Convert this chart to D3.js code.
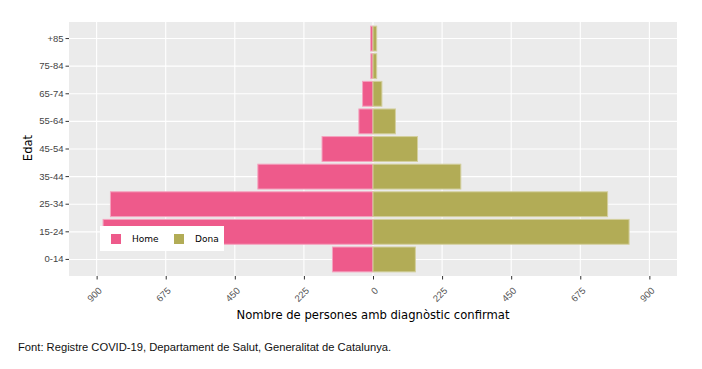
<!DOCTYPE html>
<html>
<head>
<meta charset="utf-8">
<script src="https://cdn.jsdelivr.net/npm/d3@7"></script>
<style>
body { margin: 0; background: #fff; }
</style>
</head>
<body>
<script>

let width = 702;
let height = 369;

let margins = {
	top: 22,
	right: 25,
	bottom: 93,
	left: 69
};

// age groups, bottom to top
let ages = ["0-14", "15-24", "25-34", "35-44", "45-54", "55-64", "65-74", "75-84", "+85"];
let home = [132, 879, 855, 375, 166, 46, 34, 7, 8];
let dona = [138, 834, 764, 286, 145, 73, 29, 12, 12];
let xTicks = [-900, -675, -450, -225, 0, 225, 450, 675, 900];
let legendKeys = ["Home", "Dona"];
let colors = { Home: "#EE5A8B", Dona: "#B2AC56" };

let xScale = d3.scaleLinear()
	.range([margins.left, width - margins.right])
	.domain([-990, 990]);

let yScale = d3.scaleBand()
	.range([height - margins.bottom, margins.top])
	.domain(ages)
	.paddingInner(0.1)
	.paddingOuter(0.15);

let svg = d3.select("body")
	.append("svg")
		.attr("width", width)
		.attr("height", height)
		.style("font-family", "DejaVu Sans, Verdana, sans-serif");

// panel
svg.append("rect")
	.attr("x", margins.left)
	.attr("y", margins.top)
	.attr("width", width - margins.right - margins.left)
	.attr("height", height - margins.bottom - margins.top)
	.attr("fill", "#EBEBEB");

// grid
svg.append("g")
	.selectAll("line")
	.data(xTicks)
	.enter().append("line")
		.attr("x1", d => xScale(d))
		.attr("x2", d => xScale(d))
		.attr("y1", margins.top)
		.attr("y2", height - margins.bottom)
		.attr("stroke", "#fff")
		.attr("stroke-width", 1.1);

svg.append("g")
	.selectAll("line")
	.data(ages)
	.enter().append("line")
		.attr("x1", margins.left)
		.attr("x2", width - margins.right)
		.attr("y1", d => yScale(d) + yScale.bandwidth() / 2)
		.attr("y2", d => yScale(d) + yScale.bandwidth() / 2)
		.attr("stroke", "#fff")
		.attr("stroke-width", 1.1);

// bars
let rows = ages.map((a, i) => ({ age: a, home: home[i], dona: dona[i] }));

svg.append("g")
	.selectAll("rect")
	.data(rows)
	.enter().append("rect")
		.attr("x", d => xScale(-d.home))
		.attr("y", d => yScale(d.age))
		.attr("width", d => xScale(0) - xScale(-d.home))
		.attr("height", yScale.bandwidth())
		.attr("fill", colors.Home)
		.attr("stroke", "#F4A3BF")
		.attr("stroke-width", 1);

svg.append("g")
	.selectAll("rect")
	.data(rows)
	.enter().append("rect")
		.attr("x", xScale(0))
		.attr("y", d => yScale(d.age))
		.attr("width", d => xScale(d.dona) - xScale(0))
		.attr("height", yScale.bandwidth())
		.attr("fill", colors.Dona)
		.attr("stroke", "#D3CF9E")
		.attr("stroke-width", 1);

// x axis
let xAxis = d3.axisBottom(xScale)
	.tickValues(xTicks)
	.tickFormat(d => Math.abs(d))
	.tickSize(3.5)
	.tickPadding(4);

let gx = svg.append("g")
	.attr("transform", "translate(0," + (height - margins.bottom) + ")")
	.call(xAxis);
gx.select(".domain").remove();
gx.selectAll(".tick line").attr("stroke", "#333");
gx.selectAll(".tick text")
	.attr("fill", "#555")
	.attr("font-size", 9.5)
	.attr("text-anchor", "end")
	.attr("y", 0)
	.attr("dy", "0.35em")
	.attr("transform", "translate(3,13) rotate(-45)");

// y axis
let yAxis = d3.axisLeft(yScale)
	.tickSize(3.5)
	.tickPadding(2);

let gy = svg.append("g")
	.attr("transform", "translate(" + margins.left + ",0)")
	.call(yAxis);
gy.select(".domain").remove();
gy.selectAll(".tick line").attr("stroke", "#333");
gy.selectAll(".tick text")
	.attr("fill", "#444")
	.attr("font-size", 9.5);

// axis titles
svg.append("text")
	.attr("x", (margins.left + width - margins.right) / 2)
	.attr("y", 319)
	.attr("text-anchor", "middle")
	.attr("font-size", 11.6)
	.attr("fill", "#000")
	.text("Nombre de persones amb diagnòstic confirmat");

svg.append("text")
	.attr("transform", "translate(32," + 148 + ") rotate(-90)")
	.attr("text-anchor", "middle")
	.attr("font-size", 11.6)
	.attr("fill", "#000")
	.text("Edat");

// legend
let legend = svg.append("g")
	.attr("transform", "translate(100,226)");

legend.append("rect")
	.attr("width", 124)
	.attr("height", 25)
	.attr("fill", "#fff");

let item = legend.selectAll(".item")
	.data(legendKeys)
	.enter().append("g")
		.attr("class", "item")
		.attr("transform", (d, i) => "translate(" + (11 + i * 63) + ",8)");

item.append("rect")
	.attr("width", 10)
	.attr("height", 10)
	.attr("fill", d => colors[d]);

item.append("text")
	.attr("x", 21)
	.attr("y", 5)
	.attr("dy", "0.35em")
	.attr("font-size", 9)
	.attr("fill", "#000")
	.text(d => d);

// source note
svg.append("text")
	.attr("x", 18)
	.attr("y", 351)
	.attr("font-family", "Liberation Sans, Arial, sans-serif")
	.attr("font-size", 11.2)
	.attr("fill", "#111")
	.text("Font: Registre COVID-19, Departament de Salut, Generalitat de Catalunya.");

</script>
</body>
</html>
